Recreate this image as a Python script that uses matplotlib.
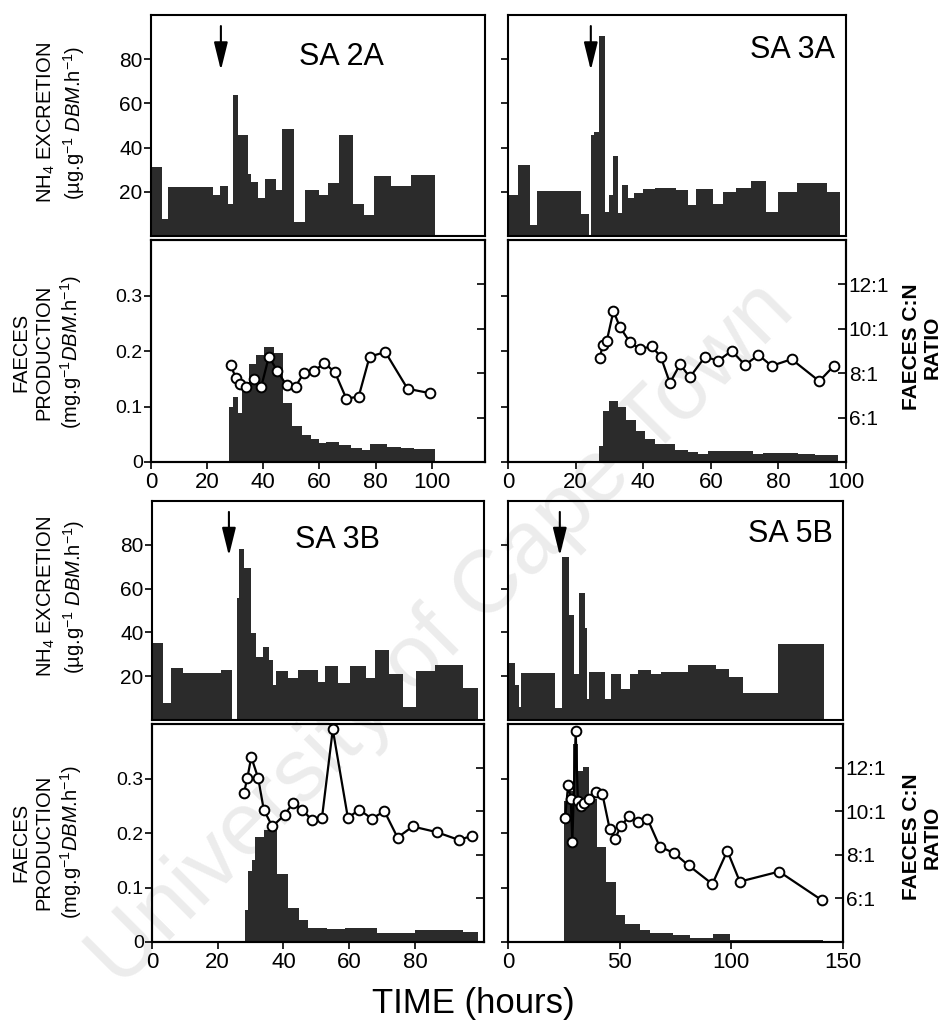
import numpy as np
import matplotlib.pyplot as plt

plt.rcParams['font.family'] = ['Liberation Sans', 'DejaVu Sans']
plt.rcParams['mathtext.fontset'] = 'custom'
plt.rcParams['mathtext.rm'] = 'Liberation Sans'
plt.rcParams['mathtext.it'] = 'Liberation Sans:italic'
plt.rcParams['mathtext.default'] = 'regular'

# ---- SA 2A ----
nh4_2a_edges = [0, 3.9, 5.9, 22.1, 24.6, 27.6, 29.2, 31, 34.6, 35.8, 38.1, 40.5, 44.6,
                46.8, 50.9, 54.8, 59.8, 63, 67.1, 71.8, 76, 79.3, 85.5, 92.6, 101.2]
nh4_2a = [31, 7.7, 22, 18.6, 22.6, 14.4, 63.6, 45.8, 28, 24.5, 17, 26, 21,
          48.5, 6.4, 21, 18.6, 24, 45.5, 14.5, 9.6, 27.3, 22.7, 27.6]
fp_2a_edges = [27.8, 29.2, 31, 32.6, 35, 37.3, 40.3, 43.8, 47.2, 50.4, 53.9, 56.9,
               59.8, 62.2, 67, 71.1, 75.3, 78.2, 84.2, 88.9, 93.7, 101.2]
fp_2a = [0.100, 0.117, 0.088, 0.138, 0.176, 0.192, 0.207, 0.197, 0.107, 0.064, 0.049,
         0.041, 0.035, 0.036, 0.030, 0.026, 0.021, 0.032, 0.027, 0.026, 0.023]
cn_2a_t = [28.4, 30.2, 31.7, 33.7, 36.7, 39.3, 42.0, 45.0, 48.3, 51.5, 54.4, 58.0,
           61.8, 65.5, 69.6, 74.0, 77.9, 83.5, 91.4, 99.4]
cn_2a = [8.35, 7.8, 7.5, 7.4, 7.75, 7.4, 8.75, 8.1, 7.45, 7.4, 8.0, 8.1,
         8.45, 8.05, 6.85, 6.95, 8.75, 8.95, 7.3, 7.1]

# ---- SA 3A ----
nh4_3a_edges = [0, 3.0, 6.5, 8.7, 21.6, 24.1, 24.6, 25.5, 27.0, 28.7, 30.0, 31.0, 32.6,
                33.6, 35.6, 37.2, 40.0, 43.4, 46.9, 49.8, 53.3, 55.5, 60.6, 63.7, 67.6,
                71.9, 76.3, 80.0, 85.4, 94.5, 98.2]
nh4_3a = [18.7, 32.1, 4.9, 20.2, 9.9, 0, 45.5, 47, 90.7, 11, 18.7, 36.3, 10.3, 23,
          17.1, 19.4, 21.3, 21.7, 21.5, 20.7, 14.1, 21.4, 14.4, 19.8, 21.7, 24.8,
          10.7, 19.8, 24, 19.8]
fp_3a_edges = [27.0, 28.0, 30.0, 32.6, 34.9, 37.9, 40.6, 43.5, 49.4, 53.3, 56.2, 59.2,
               72.6, 75.5, 85.8, 90.7, 97.6]
fp_3a = [0.029, 0.092, 0.110, 0.100, 0.075, 0.055, 0.041, 0.032, 0.022, 0.018, 0.015,
         0.019, 0.015, 0.017, 0.015, 0.013]
cn_3a_t = [27.2, 28.0, 29.2, 31.2, 33.1, 36.1, 39.1, 42.5, 45.2, 47.9, 50.9, 53.8,
           58.3, 62.2, 66.2, 70.1, 74.1, 78.0, 83.9, 92.1, 96.4]
cn_3a = [8.68, 9.29, 9.44, 10.8, 10.08, 9.39, 9.09, 9.21, 8.74, 7.56, 8.4, 7.82,
         8.74, 8.56, 9.01, 8.37, 8.82, 8.33, 8.63, 7.64, 8.33]

# ---- SA 3B ----
nh4_3b_edges = [0, 3.2, 5.8, 9.5, 20.9, 24.4, 25.8, 26.5, 28.0, 30.2, 31.7, 33.7, 35.5,
                36.8, 37.8, 41.3, 44.3, 50.4, 52.7, 56.6, 60.1, 65.1, 67.9, 72.2, 76.3,
                80.2, 86.1, 94.6, 99.2]
nh4_3b = [35, 7.6, 23.9, 21.4, 23, 0, 55.5, 78, 69.5, 39.7, 28.8, 33.5, 27.6, 16.1,
          22.6, 19.1, 23, 17.2, 24.7, 16.7, 24.5, 19.1, 32, 20.8, 6, 22.6, 25, 14.6]
fp_3b_edges = [28.3, 29.3, 30.3, 31.2, 34.0, 38.1, 41.3, 44.8, 47.4, 53.2, 58.8, 68.4,
               80.0, 94.6, 99.2]
fp_3b = [0.058, 0.131, 0.150, 0.193, 0.206, 0.124, 0.062, 0.041, 0.026, 0.023, 0.026,
         0.017, 0.022, 0.018]
cn_3b_t = [28.0, 29.0, 30.2, 32.3, 34.0, 36.6, 40.4, 42.9, 45.7, 48.7, 51.7, 55.0,
           59.6, 63.0, 66.9, 70.7, 74.7, 79.3, 86.6, 93.4, 97.5]
cn_3b = [10.85, 11.52, 12.48, 11.52, 10.07, 9.3, 9.84, 10.39, 10.07, 9.58, 9.69, 13.75,
         9.69, 10.07, 9.66, 10.0, 8.79, 9.3, 9.04, 8.68, 8.88]

# ---- SA 5B ----
nh4_5b_edges = [0, 3.0, 4.8, 6.0, 21.2, 24.4, 27.2, 29.6, 31.8, 34.3, 35.4, 36.3, 43.6,
                45.9, 50.8, 54.5, 58.2, 64.2, 68.4, 80.6, 93.3, 99.0, 105.2, 120.9, 141.4]
nh4_5b = [26.2, 15.8, 5.8, 21.5, 5.5, 74.6, 47.8, 20.8, 58.1, 42, 9.7, 22, 9.7, 21.2,
          14.3, 21.2, 22.8, 21.2, 22, 25.1, 23.2, 19.7, 12.5, 34.6]
fp_5b_edges = [24.9, 27.6, 29.1, 31.3, 33.6, 36.3, 39.9, 43.7, 48.5, 52.3, 59.0, 63.4,
               73.9, 81.4, 91.8, 99.3, 141.0]
fp_5b = [0.258, 0.277, 0.363, 0.314, 0.321, 0.263, 0.174, 0.111, 0.049, 0.033, 0.022,
         0.017, 0.012, 0.007, 0.014, 0.004]
cn_5b_t = [25.6, 26.9, 28.1, 28.8, 30.3, 31.3, 32.6, 34.0, 36.3, 39.3, 42.3, 45.5,
           47.9, 50.6, 54.1, 58.2, 62.4, 67.9, 74.3, 80.9, 91.5, 98.2, 103.8, 121.4, 140.5]
cn_5b = [9.69, 11.2, 10.58, 8.57, 13.66, 10.49, 10.23, 10.38, 10.58, 10.88, 10.77, 9.2,
         8.74, 9.31, 9.77, 9.51, 9.66, 8.38, 8.08, 7.51, 6.66, 8.18, 6.77, 7.23, 5.92]

# feeding time (arrows)
feed_t = {'SA 2A': 24.9, 'SA 3A': 24.5, 'SA 3B': 23.4, 'SA 5B': 23.2}

nh4_ticks = [20, 40, 60, 80]
fp_ticks = [0, 0.1, 0.2, 0.3]
fp_ticklabels = ['0', '0.1', '0.2', '0.3']
cn_ticks = [6, 8, 10, 12]
cn_ticklabels = ['6:1', '8:1', '10:1', '12:1']

W, H = 946, 1032
BAR = '#2b2b2b'
fig = plt.figure(figsize=(W / 100, H / 100), dpi=100)
fig.patch.set_facecolor('white')

# faint diagonal watermark, kept under the axes
fig.text(0.468, 0.385, 'University of Cape Town', rotation=45, fontsize=64,
         color='#ececec', ha='center', va='center', zorder=-5)


def rect(x0, y0, x1, y1):
    return [x0 / W, 1 - y1 / H, (x1 - x0) / W, (y1 - y0) / H]


def style(ax):
    ax.set_facecolor('none')
    for s in ax.spines.values():
        s.set_linewidth(1.5)
    ax.tick_params(width=1.2, length=5, direction='out')


def panel(name, xcols, ytop, ybot, edges_n, nh4, edges_f, fp, cn_t, cn,
          xmax, xticks, left, name_xy, name_ha):
    x0, x1 = xcols
    # NH4 excretion
    ax1 = fig.add_axes(rect(x0, ytop[0], x1, ytop[1]))
    style(ax1)
    ax1.bar(edges_n[:-1], nh4, width=np.diff(edges_n), align='edge', color=BAR, linewidth=0)
    ax1.set_xlim(0, xmax)
    ax1.set_ylim(0, 100)
    ax1.set_xticks([])
    ax1.set_yticks(nh4_ticks)
    ax1.tick_params(axis='y', labelsize=15, pad=1)
    if not left:
        ax1.set_yticklabels([])
    t = feed_t[name]
    ax1.annotate('', xy=(t, 75), xytext=(t, 95),
                 arrowprops=dict(arrowstyle='-|>,head_length=1.7,head_width=0.42',
                                 color='k', lw=1.5, shrinkA=0, shrinkB=0))
    ax1.text(name_xy[0], name_xy[1], name, transform=ax1.transAxes, fontsize=22,
             ha=name_ha, va='center')

    # faeces production + C:N ratio
    ax2 = fig.add_axes(rect(x0, ybot[0], x1, ybot[1]))
    style(ax2)
    ax2.bar(edges_f[:-1], fp, width=np.diff(edges_f), align='edge', color=BAR, linewidth=0)
    ax2.set_xlim(0, xmax)
    ax2.set_ylim(0, 0.4)
    ax2.set_yticks(fp_ticks)
    ax2.set_xticks(xticks)
    ax2.set_xticklabels([str(v) for v in xticks])
    ax2.tick_params(axis='x', labelsize=16, pad=2)
    ax2.tick_params(axis='y', labelsize=14, pad=1)
    if left:
        ax2.set_yticklabels(fp_ticklabels)
    else:
        ax2.set_yticklabels([])

    ax3 = ax2.twinx()
    ax3.set_facecolor('none')
    for s in ax3.spines.values():
        s.set_linewidth(1.5)
    ax3.plot(cn_t, cn, color='k', lw=1.6, marker='o', ms=7, mfc='white',
             mec='k', mew=1.4, zorder=3)
    ax3.set_ylim(4, 14)
    ax3.set_xlim(0, xmax)
    ax3.set_yticks(cn_ticks)
    ax3.tick_params(axis='y', direction='in', width=1.2, length=6, labelsize=15, pad=2)
    if left:
        ax3.set_yticklabels([])
    else:
        ax3.set_yticklabels(cn_ticklabels)
    return ax1, ax2


LEFT1, RIGHT1 = (151, 485), (508, 846)
LEFT2, RIGHT2 = (152, 484), (508, 843)

panel('SA 2A', LEFT1, (15, 236), (240, 462), nh4_2a_edges, nh4_2a, fp_2a_edges, fp_2a,
      cn_2a_t, cn_2a, 119, [0, 20, 40, 60, 80, 100], True, (0.57, 0.81), 'center')
panel('SA 3A', RIGHT1, (15, 236), (240, 462), nh4_3a_edges, nh4_3a, fp_3a_edges, fp_3a,
      cn_3a_t, cn_3a, 100, [0, 20, 40, 60, 80, 100], False, (0.968, 0.84), 'right')
panel('SA 3B', LEFT2, (501, 720), (724, 942), nh4_3b_edges, nh4_3b, fp_3b_edges, fp_3b,
      cn_3b_t, cn_3b, 101, [0, 20, 40, 60, 80], True, (0.56, 0.82), 'center')
panel('SA 5B', RIGHT2, (501, 720), (724, 942), nh4_5b_edges, nh4_5b, fp_5b_edges, fp_5b,
      cn_5b_t, cn_5b, 150, [0, 50, 100, 150], False, (0.968, 0.85), 'right')

nh4_label = 'NH$_4$ EXCRETION\n(µg.g$^{-1}$ $\\mathit{DBM}$.h$^{-1}$)'
fp_label = 'FAECES\nPRODUCTION\n(mg.g$^{-1}$$\\mathit{DBM}$.h$^{-1}$)'
cn_label = 'FAECES C:N\nRATIO'

for yc_n, yc_f in [(123, 352), (597, 842)]:
    fig.text(61 / W, 1 - yc_n / H, nh4_label, rotation=90, fontsize=14.5, ha='center',
             va='center', multialignment='center', linespacing=1.2)
    fig.text(48 / W, 1 - yc_f / H, fp_label, rotation=90, fontsize=14.5, ha='center',
             va='center', multialignment='center', linespacing=1.25)
    fig.text(922 / W, 1 - (yc_f - 5) / H, cn_label, rotation=90, fontsize=15,
             fontweight='bold', ha='center', va='center', multialignment='center',
             linespacing=1.1)

fig.text(473 / W, 1 - 1003 / H, 'TIME (hours)', fontsize=25, ha='center', va='center')

fig.savefig('out.png', dpi=100)
